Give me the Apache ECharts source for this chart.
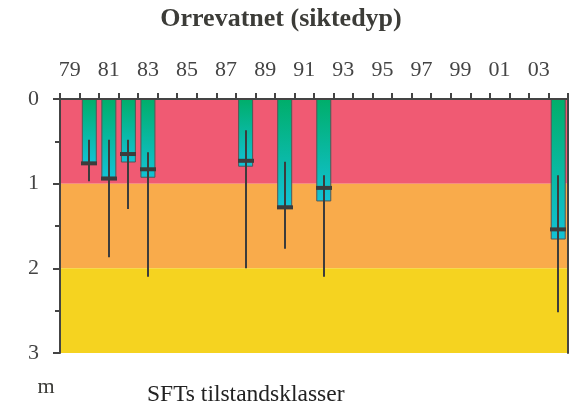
<!DOCTYPE html>
<html>
<head>
<meta charset="utf-8">
<script src="https://cdn.jsdelivr.net/npm/echarts@6/dist/echarts.min.js"></script>
<style>
html,body{margin:0;padding:0;background:#fff;}
#chart{width:585px;height:403px;}
</style>
</head>
<body>
<div id="chart"></div>
<script>
// Categories (years on the top axis)
var years = ['1979','1980','1981','1982','1983','1984','1985','1986','1987','1988','1989','1990','1991',
             '1992','1993','1994','1995','1996','1997','1998','1999','2000','2001','2002','2003','2004'];
// Sampled years and Secchi depth values (m)
var sampleYears = ['1980','1981','1982','1983','1988','1990','1992','2004'];
var meanDepth   = [0.77, 0.93, 0.75, 0.93, 0.80, 1.27, 1.21, 1.66];
var markDepth   = [0.76, 0.94, 0.65, 0.83, 0.73, 1.28, 1.05, 1.54];
var minDepth    = [0.48, 0.48, 0.48, 0.63, 0.37, 0.74, 0.90, 0.90];
var maxDepth    = [0.97, 1.87, 1.30, 2.10, 2.00, 1.77, 2.10, 2.52];
// SFT condition classes (depth bands)
var classFrom   = [0, 1, 2];
var classTo     = [1, 2, 3];
var classColors = ['#f05a73', '#f9ab4b', '#f5d320'];
var yTicks      = [0, 1, 2, 3];

var FONT = 'Liberation Serif';
var INK = '#444444';

var chart = echarts.init(document.getElementById('chart'), null, {renderer: 'canvas'});

var bandData = classFrom.map(function (f, i) { return [f, classTo[i], i]; });
var barData = sampleYears.map(function (y, i) { return [y, meanDepth[i]]; });
var errData = sampleYears.map(function (y, i) { return [y, minDepth[i], maxDepth[i], markDepth[i]]; });

var option = {
  animation: false,
  backgroundColor: '#ffffff',
  grid: {left: 60, right: 17, top: 99, bottom: 50, containLabel: false},
  graphic: [
    {type: 'text', x: 281, y: 19, style: {text: 'Orrevatnet (siktedyp)', font: 'bold 26px "Liberation Serif"', fill: '#3c3c38', textAlign: 'center', textVerticalAlign: 'middle'}},
    {type: 'text', x: 46, y: 387, style: {text: 'm', font: '22px "Liberation Serif"', fill: '#3c3c38', textAlign: 'center', textVerticalAlign: 'middle'}},
    {type: 'text', x: 147, y: 395, style: {text: 'SFTs tilstandsklasser', font: '23.5px "Liberation Serif"', fill: '#222', textAlign: 'left', textVerticalAlign: 'middle'}}
  ],
  xAxis: [
    {
      type: 'category', position: 'top', data: years, boundaryGap: true,
      axisLine: {show: true, lineStyle: {color: INK, width: 2}},
      axisTick: {show: true, interval: 0, length: 6, lineStyle: {color: INK, width: 2}},
      axisLabel: {interval: 1, formatter: function (v) { return v.slice(2); }, fontFamily: FONT, fontSize: 22, color: INK, margin: 18},
      splitLine: {show: false}, z: 10
    },
    {
      type: 'category', position: 'bottom', data: years, boundaryGap: true,
      axisLine: {show: true, lineStyle: {color: INK, width: 2}},
      axisTick: {show: false}, axisLabel: {show: false}, splitLine: {show: false}, z: 10
    }
  ],
  yAxis: [
    {
      type: 'value', inverse: true, min: 0, max: 3, interval: 1,
      axisLine: {show: true, lineStyle: {color: INK, width: 2}},
      axisTick: {show: true, length: 7, lineStyle: {color: INK, width: 2}},
      minorTick: {show: true, splitNumber: 2, length: 5, lineStyle: {color: INK, width: 2}},
      axisLabel: {fontFamily: FONT, fontSize: 22, color: INK, margin: 21,
                  formatter: function (v) { return yTicks.indexOf(v) >= 0 ? String(v) : ''; }},
      splitLine: {show: false}, z: 10
    },
    {
      type: 'value', position: 'right', inverse: true, min: 0, max: 3,
      axisLine: {show: true, lineStyle: {color: INK, width: 2}},
      axisTick: {show: false}, axisLabel: {show: false}, splitLine: {show: false}, z: 10
    }
  ],
  series: [
    {
      type: 'custom', name: 'bands', z: 1, silent: true,
      xAxisIndex: 0, yAxisIndex: 0,
      data: bandData,
      encode: {y: [0, 1]},
      renderItem: function (params, api) {
        var cs = params.coordSys;
        var y0 = api.coord([0, api.value(0)])[1];
        var y1 = api.coord([0, api.value(1)])[1];
        return {
          type: 'rect',
          shape: {x: cs.x, y: Math.min(y0, y1), width: cs.width, height: Math.abs(y1 - y0)},
          style: {fill: classColors[api.value(2)]}
        };
      }
    },
    {
      type: 'bar', name: 'siktedyp', z: 3,
      xAxisIndex: 0, yAxisIndex: 0,
      data: barData, barWidth: 15,
      itemStyle: {
        color: new echarts.graphic.LinearGradient(0, 0, 0, 1, [
          {offset: 0, color: '#00ae6a'},
          {offset: 1, color: '#12c2d6'}
        ]),
        borderColor: '#555555', borderWidth: 1
      }
    },
    {
      type: 'custom', name: 'range', z: 5,
      xAxisIndex: 0, yAxisIndex: 0,
      data: errData,
      encode: {x: 0, y: [1, 2, 3]},
      renderItem: function (params, api) {
        var xi = api.value(0);
        var top = api.coord([xi, api.value(1)]);
        var bot = api.coord([xi, api.value(2)]);
        var mid = api.coord([xi, api.value(3)]);
        var x = Math.round(top[0]);
        return {
          type: 'group',
          children: [
            {type: 'line', shape: {x1: x, y1: top[1], x2: x, y2: bot[1]}, style: {stroke: '#3c3c3c', lineWidth: 2}},
            {type: 'rect', shape: {x: x - 8, y: mid[1] - 2, width: 16, height: 4}, style: {fill: '#3c3c3c'}}
          ]
        };
      }
    }
  ]
};
chart.setOption(option);
</script>
</body>
</html>
